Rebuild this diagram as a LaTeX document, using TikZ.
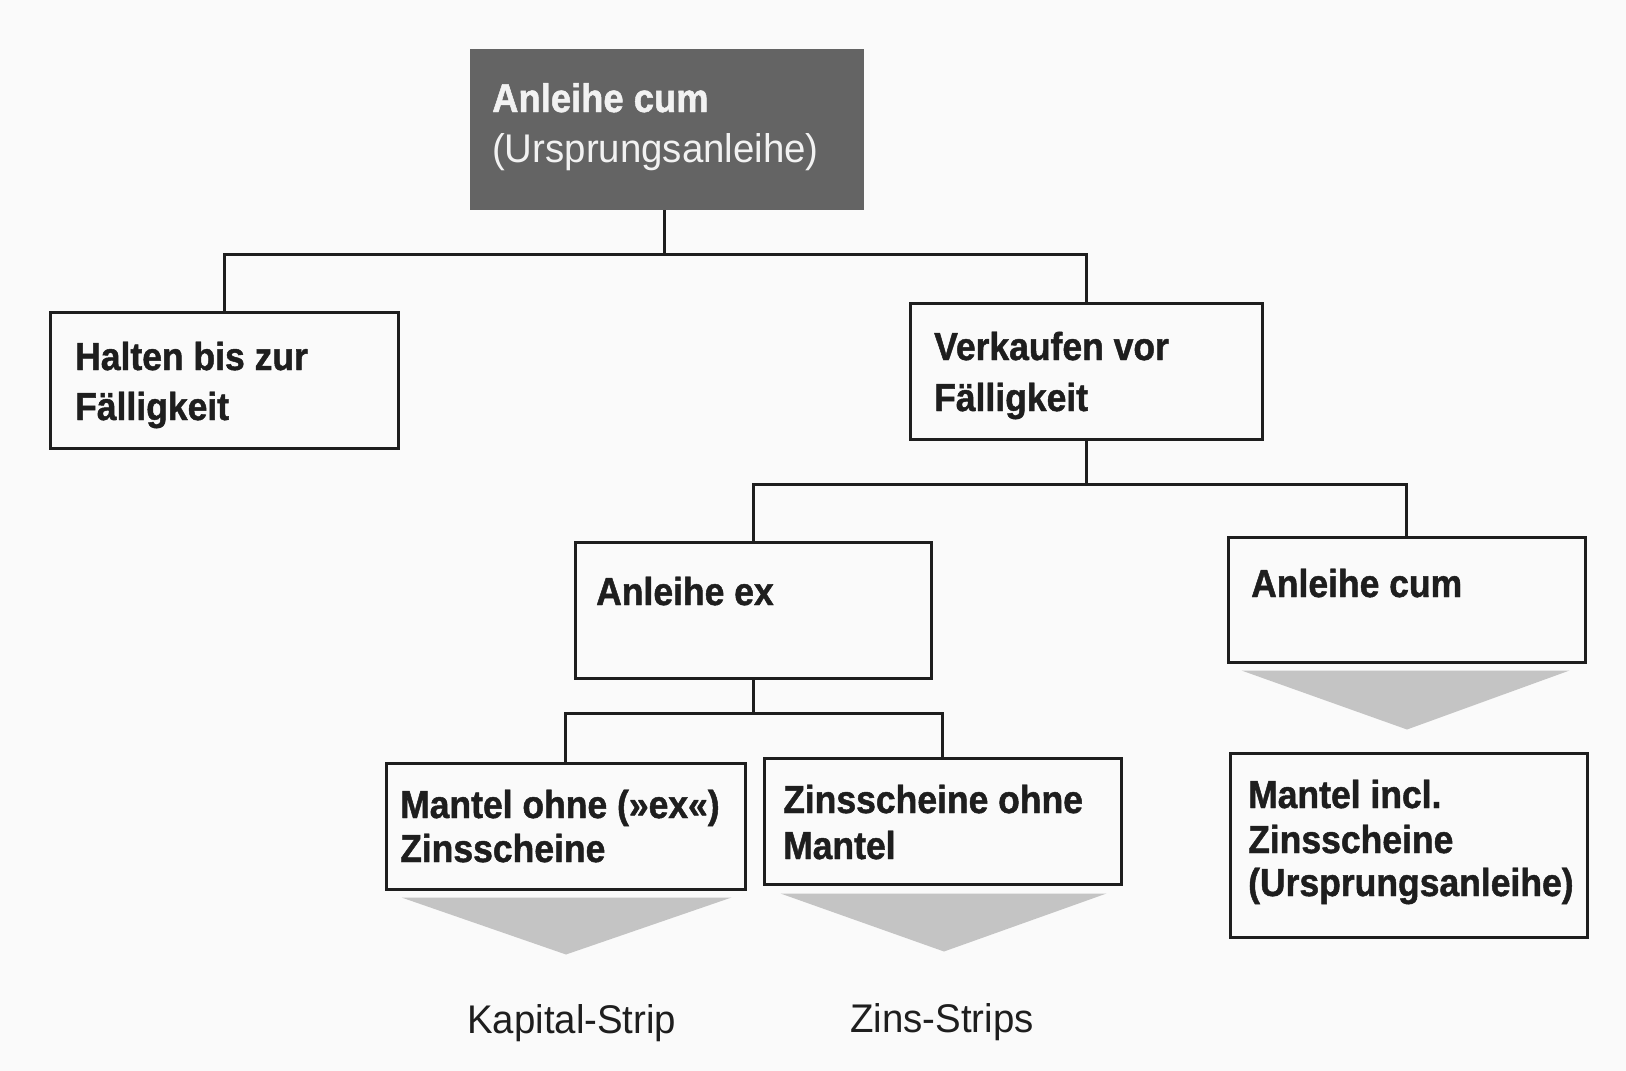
\documentclass[tikz,border=0pt]{standalone}
\usepackage{fontspec}
\setmainfont{Liberation Sans}
\newfontfamily\boldcond{Liberation Sans Bold}[FakeStretch=0.91,FakeBold=1.2]
\newfontfamily\plaincond{Liberation Sans}[FakeStretch=0.96]
\usetikzlibrary{calc}
\definecolor{ink}{RGB}{30,30,30}
\definecolor{headfill}{RGB}{100,100,100}
\definecolor{headtext}{RGB}{242,242,242}
\definecolor{wedge}{RGB}{196,196,196}
\definecolor{paper}{RGB}{250,250,250}

\begin{document}
\begin{tikzpicture}[x=1pt,y=-1pt,
  frame/.style={rectangle, draw=ink, line width=3pt, fill=paper, inner sep=0pt},
  headbox/.style={rectangle, fill=headfill, inner sep=0pt},
  link/.style={draw=ink, line width=3pt},
  wedgeshape/.style={fill=wedge},
  boxtext/.style={anchor=base west, inner sep=0pt, text=ink,
    font=\boldcond\fontsize{39}{44}\selectfont},
  headbold/.style={anchor=base west, inner sep=0pt, text=headtext,
    font=\boldcond\fontsize{40}{46}\selectfont},
  headplain/.style={anchor=base west, inner sep=0pt, text=headtext,
    font=\plaincond\fontsize{40}{46}\selectfont},
  striptext/.style={anchor=base west, inner sep=0pt, text=ink,
    font=\plaincond\fontsize{40}{46}\selectfont}]

% page
\fill[paper] (0,0) rectangle (1626,1071);
\useasboundingbox (0,0) rectangle (1626,1071);

% boxes
\node[headbox, minimum width=394pt, minimum height=161pt] (top) at (667,129.5) {};
\node[frame, minimum width=348pt, minimum height=136pt] (halten) at (224,380) {};
\node[frame, minimum width=352pt, minimum height=136pt] (verk) at (1086,371) {};
\node[frame, minimum width=356pt, minimum height=136pt] (anlex) at (753,610) {};
\node[frame, minimum width=357pt, minimum height=125pt] (anlcum) at (1406.5,599.5) {};
\node[frame, minimum width=359pt, minimum height=126pt] (mohne) at (565.5,826) {};
\node[frame, minimum width=357pt, minimum height=126pt] (zohne) at (942.5,821) {};
\node[frame, minimum width=357pt, minimum height=184pt] (mincl) at (1408.5,845) {};

% tree connectors
\coordinate (j1) at (664,254);
\coordinate (j2) at (1086,484);
\coordinate (j3) at (753,713);
\draw[link] (top.south -| j1) -- (j1);
\draw[link] (halten.north) |- (j1) -| (verk.north);
\draw[link] (verk.south) -- (j2);
\draw[link] (anlex.north) |- (j2) -| (anlcum.north);
\draw[link] (anlex.south) -- (j3);
\draw[link] (mohne.north) |- (j3) -| (zohne.north);

% shaded wedges below boxes
\fill[wedgeshape] ($(anlcum.south west)+(15,7)$) -- ($(anlcum.south east)+(-17,7)$)
  -- ($(anlcum.south)+(0.5,66)$) -- cycle;
\fill[wedgeshape] ($(mohne.south west)+(17,7)$) -- ($(mohne.south east)+(-15,7)$)
  -- ($(mohne.south)+(0.5,64)$) -- cycle;
\fill[wedgeshape] ($(zohne.south west)+(18,8)$) -- ($(zohne.south east)+(-16,8)$)
  -- ($(zohne.south)+(1.5,66)$) -- cycle;

% texts
\node[headbold] (t-top1) at (492,112) {Anleihe cum};
\node[headplain] (t-top2) at (492,162) {(Ursprungsanleihe)};

\node[boxtext] (t-hal1) at (75,370) {Halten bis zur};
\node[boxtext] (t-hal2) at (75,420) {Fälligkeit};

\node[boxtext] (t-ver1) at (934,360) {Verkaufen vor};
\node[boxtext] (t-ver2) at (934,411) {Fälligkeit};

\node[boxtext] (t-aex) at (596,605) {Anleihe ex};
\node[boxtext] (t-acum) at (1251,597) {Anleihe cum};

\node[boxtext] (t-mo1) at (400,818) {Mantel ohne (»ex«)};
\node[boxtext] (t-mo2) at (400,862) {Zinsscheine};

\node[boxtext] (t-zo1) at (783,813) {Zinsscheine ohne};
\node[boxtext] (t-zo2) at (783,859) {Mantel};

\node[boxtext] (t-mi1) at (1248,808) {Mantel incl.};
\node[boxtext] (t-mi2) at (1248,853) {Zinsscheine};
\node[boxtext] (t-mi3) at (1248,896) {(Ursprungsanleihe)};

\node[striptext] (t-kap) at (467,1033) {Kapital-Strip};
\node[striptext] (t-zins) at (850,1032) {Zins-Strips};
\end{tikzpicture}
\end{document}
